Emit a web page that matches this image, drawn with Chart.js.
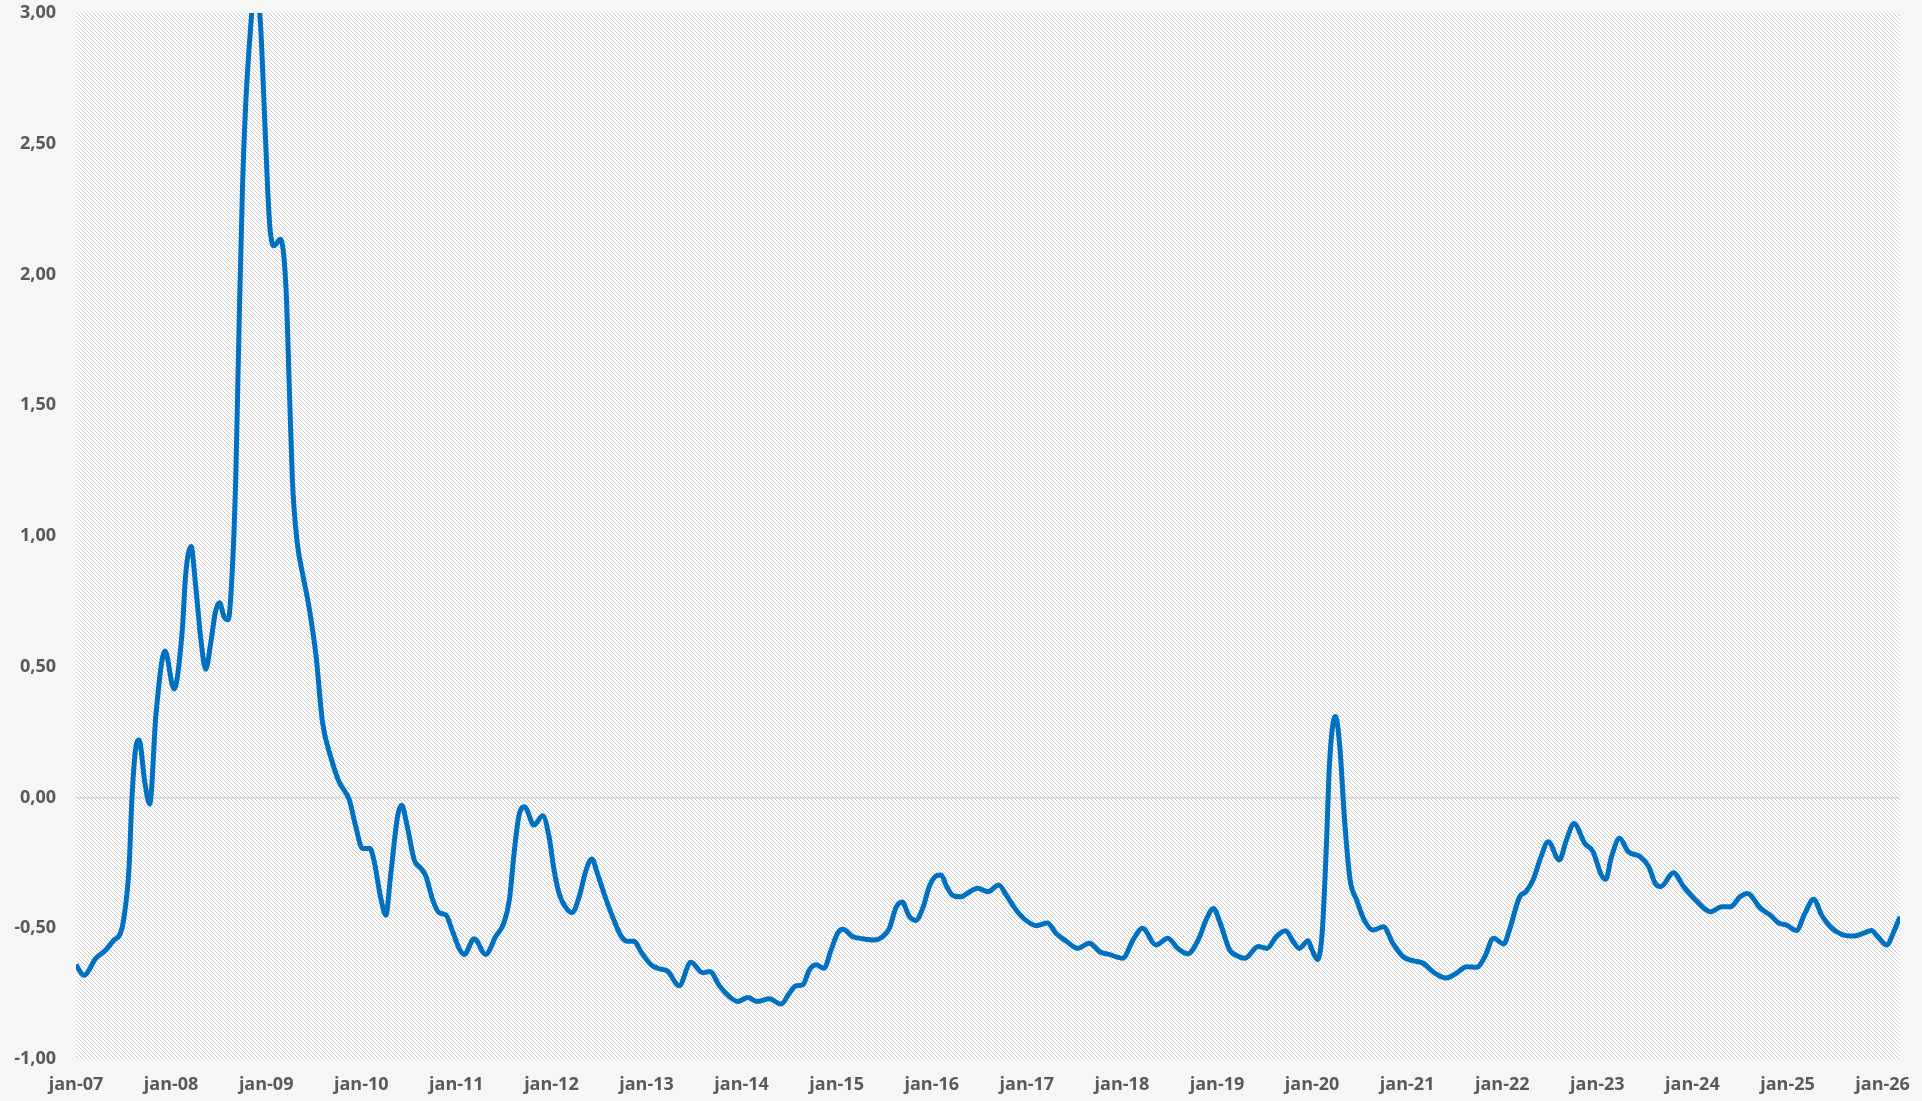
<!DOCTYPE html>
<html>
<head>
<meta charset="utf-8">
<script src="https://cdn.jsdelivr.net/npm/chart.js@4.4.1/dist/chart.umd.min.js"></script>
<style>
  html, body { margin: 0; padding: 0; background: #f6f6f6; }
  #wrap { width: 1922px; height: 1101px; }
</style>
</head>
<body>
<div id="wrap"><canvas id="c" width="1922" height="1101"></canvas></div>
<script>
// Months since jan-07 (x position of each reading)
const months = [
  0, 1.0, 2.5, 3.7, 4.8, 5.6, 6.0, 6.7, 7.05, 7.5, 7.95, 8.7, 9.3, 10.1, 11.24, 12.37, 13.4, 13.85, 14.52, 15.1,
  15.74, 16.37, 17.0, 17.6, 18.1, 18.7, 19.2, 19.7, 20.16, 20.6, 21.0, 21.4, 22.05, 22.7, 23.3, 23.7, 24.2, 24.5, 25.0, 25.8,
  26.5, 26.9, 27.3, 27.9, 28.6, 29.4, 30.3, 31.1, 32.2, 33.2, 34.5, 35.3, 36.15, 37.1, 37.6, 38.5, 39.1, 39.7, 40.6, 41.1,
  41.8, 42.7, 43.5, 44.15, 45.0, 45.8, 46.7, 47.5, 48.4, 49.0, 50.25, 51.7, 53.0, 54.0, 54.7, 55.3, 55.9, 56.6, 57.8, 58.9,
  59.7, 60.35, 61.0, 61.8, 62.6, 63.5, 64.35, 65.1, 65.8, 66.9, 67.9, 68.8, 69.6, 70.45, 71.3, 72.6, 73.6, 74.7, 76.1, 77.6,
  79.1, 80.0, 81.2, 82.4, 83.5, 84.8, 86.0, 87.5, 89.0, 90.0, 90.9, 91.7, 92.55, 93.4, 94.4, 95.3, 96.1, 96.8, 98.0, 99.3,
  100.75, 101.8, 102.65, 103.5, 104.25, 105.2, 106.0, 106.9, 107.7, 108.55, 109.2, 109.8, 110.6, 111.7, 112.5, 113.8, 115.1, 116.45, 117.4, 118.65,
  119.9, 121.2, 122.6, 123.7, 125.0, 126.4, 127.9, 129.2, 130.4, 132.1, 133.4, 134.6, 136.3, 137.8, 139.05, 140.3, 141.7, 142.6, 143.55, 144.4,
  145.6, 146.6, 147.5, 149.2, 150.3, 151.5, 152.65, 153.6, 154.4, 155.5, 156.0, 156.7, 157.3, 157.8, 158.2, 158.95, 159.5, 160.1, 160.8, 161.6,
  162.6, 163.7, 165.0, 166.2, 167.5, 168.7, 170.0, 171.5, 172.9, 174.2, 175.5, 176.8, 177.8, 178.9, 180.2, 180.9, 182.2, 183.0, 183.9, 184.9,
  185.8, 187.2, 188.1, 189.05, 190.4, 191.45, 192.5, 193.05, 193.8, 194.8, 195.9, 197.4, 198.5, 199.3, 200.0, 201.6, 202.9, 204.4, 206.3, 207.7,
  208.8, 210.0, 210.95, 212.6, 213.8, 214.85, 215.9, 217.1, 218.2, 219.3, 220.3, 221.4, 222.8, 224.3, 225.6, 226.6, 227.4, 228.5, 229.5, 230.2
];
const values = [
  -0.64, -0.68, -0.615, -0.585, -0.545, -0.52, -0.47, -0.265, -0.01, 0.18, 0.22, 0.055, -0.025, 0.32, 0.56, 0.415, 0.635, 0.855, 0.96, 0.81,
  0.61, 0.49, 0.59, 0.71, 0.745, 0.69, 0.68, 0.855, 1.22, 1.83, 2.32, 2.64, 2.95, 3.15, 2.95, 2.68, 2.32, 2.17, 2.11, 2.135,
  1.95, 1.59, 1.22, 0.98, 0.855, 0.73, 0.54, 0.29, 0.15, 0.06, -0.01, -0.11, -0.195, -0.195, -0.24, -0.39, -0.45, -0.30, -0.07, -0.03,
  -0.11, -0.24, -0.27, -0.30, -0.39, -0.44, -0.45, -0.51, -0.58, -0.60, -0.54, -0.60, -0.53, -0.48, -0.39, -0.21, -0.07, -0.035, -0.105, -0.07,
  -0.15, -0.28, -0.37, -0.42, -0.44, -0.38, -0.28, -0.235, -0.29, -0.39, -0.47, -0.53, -0.55, -0.55, -0.59, -0.64, -0.655, -0.665, -0.72, -0.63,
  -0.67, -0.665, -0.72, -0.76, -0.78, -0.765, -0.78, -0.77, -0.79, -0.75, -0.72, -0.717, -0.66, -0.64, -0.653, -0.583, -0.52, -0.504, -0.532, -0.54,
  -0.545, -0.532, -0.50, -0.42, -0.40, -0.456, -0.47, -0.42, -0.34, -0.30, -0.296, -0.335, -0.373, -0.38, -0.366, -0.347, -0.36, -0.335, -0.373, -0.43,
  -0.47, -0.49, -0.48, -0.52, -0.55, -0.577, -0.557, -0.59, -0.60, -0.615, -0.545, -0.50, -0.564, -0.538, -0.577, -0.598, -0.54, -0.47, -0.424, -0.48,
  -0.583, -0.606, -0.615, -0.57, -0.577, -0.532, -0.51, -0.55, -0.577, -0.548, -0.583, -0.62, -0.507, -0.19, 0.13, 0.31, 0.194, -0.086, -0.315, -0.39,
  -0.47, -0.507, -0.494, -0.558, -0.609, -0.624, -0.634, -0.672, -0.69, -0.672, -0.647, -0.649, -0.609, -0.538, -0.56, -0.507, -0.38, -0.36, -0.315, -0.226,
  -0.169, -0.239, -0.163, -0.099, -0.175, -0.207, -0.296, -0.313, -0.226, -0.156, -0.207, -0.226, -0.265, -0.328, -0.341, -0.288, -0.341, -0.392, -0.437, -0.418,
  -0.418, -0.38, -0.367, -0.424, -0.449, -0.479, -0.488, -0.509, -0.443, -0.389, -0.449, -0.494, -0.523, -0.53, -0.519, -0.509, -0.532, -0.564, -0.507, -0.456
];
const tickLabels = ['jan-07','jan-08','jan-09','jan-10','jan-11','jan-12','jan-13','jan-14','jan-15','jan-16',
  'jan-17','jan-18','jan-19','jan-20','jan-21','jan-22','jan-23','jan-24','jan-25','jan-26'];
const yTicks = [-1, -0.5, 0, 0.5, 1, 1.5, 2, 2.5, 3];

// hatch pattern for plot area
const tile = document.createElement('canvas');
tile.width = 4; tile.height = 4;
const tg = tile.getContext('2d');
tg.fillStyle = '#ffffff'; tg.fillRect(0, 0, 4, 4);
tg.fillStyle = '#cacaca';
for (let i = 0; i < 4; i++) tg.fillRect(i, i, 1, 1);

const bgPlugin = {
  id: 'bg',
  beforeDraw(chart) {
    const { ctx, chartArea: a } = chart;
    ctx.save();
    ctx.fillStyle = '#f6f6f6';
    ctx.fillRect(0, 0, chart.width, chart.height);
    ctx.fillStyle = ctx.createPattern(tile, 'repeat');
    ctx.fillRect(a.left, a.top, a.right - a.left, a.bottom - a.top);
    ctx.restore();
  }
};

const font = { family: '"Open Sans", sans-serif', size: 18, weight: '700' };

new Chart(document.getElementById('c'), {
  type: 'line',
  data: {
    datasets: [{
      data: months.map((m, i) => ({ x: m, y: values[i] })),
      borderColor: '#0070C0',
      borderWidth: 5,
      pointRadius: 0,
      fill: false,
      cubicInterpolationMode: 'monotone',
      clip: 0
    }]
  },
  options: {
    responsive: false,
    animation: false,
    layout: { padding: { left: 0, top: 13, right: 22, bottom: 0 } },
    plugins: { legend: { display: false }, tooltip: { enabled: false } },
    scales: {
      x: {
        type: 'linear',
        min: 0,
        max: months[months.length - 1],
        afterBuildTicks: s => { s.ticks = tickLabels.map((_, i) => ({ value: i * 12 })); },
        afterFit: s => { s.height = 42; s.paddingLeft = 0; s.paddingRight = 0; },
        grid: { display: false, drawTicks: false },
        border: { display: false },
        ticks: {
          autoSkip: false, maxRotation: 0, padding: 15, color: '#595959', font,
          callback: v => tickLabels[Math.round(v / 12)]
        }
      },
      y: {
        min: -1, max: 3,
        afterBuildTicks: s => { s.ticks = yTicks.map(v => ({ value: v })); },
        afterFit: s => { s.width = 76; s.paddingTop = 0; s.paddingBottom = 0; },
        grid: {
          drawTicks: false,
          color: c => (c.tick && c.tick.value === 0) ? '#d6d6d6' : 'rgba(0,0,0,0)',
          lineWidth: 1.5
        },
        border: { display: false },
        ticks: {
          padding: 20, color: '#595959', font,
          callback: v => v.toFixed(2).replace('.', ',')
        }
      }
    }
  },
  plugins: [bgPlugin]
});
</script>
</body>
</html>
